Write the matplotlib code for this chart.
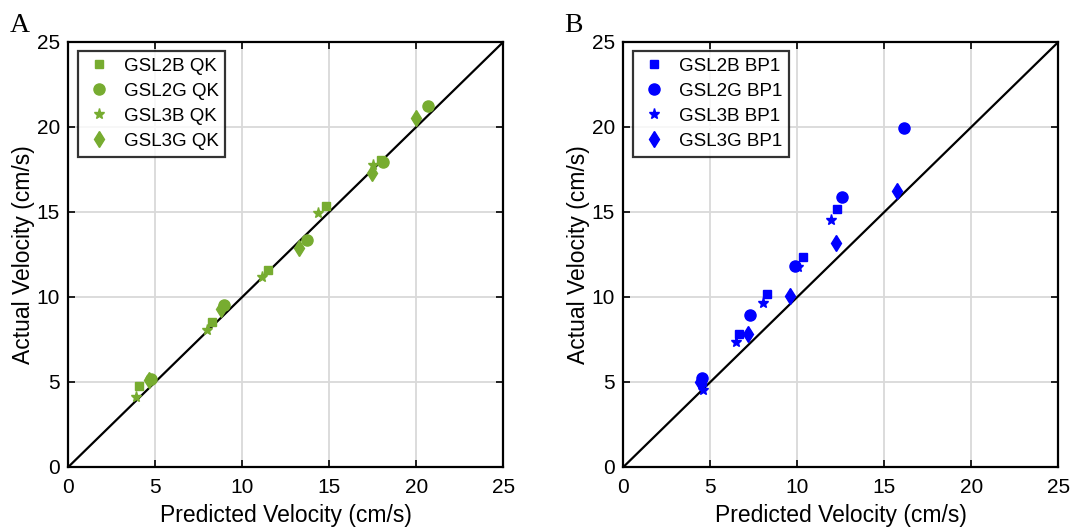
import numpy as np
import matplotlib.pyplot as plt

plt.rcParams['font.family'] = ['Liberation Sans', 'DejaVu Sans']

# panel A: QK model (predicted, actual) in cm/s
qk_2b_x = [4.07, 8.25, 11.5, 14.8, 18.0]
qk_2b_y = [4.75, 8.55, 11.6, 15.35, 18.05]
qk_2g_x = [4.75, 8.95, 13.7, 18.1, 20.65]
qk_2g_y = [5.15, 9.5, 13.35, 17.95, 21.25]
qk_3b_x = [3.9, 7.95, 11.15, 14.35, 17.5]
qk_3b_y = [4.1, 8.05, 11.2, 14.95, 17.75]
qk_3g_x = [4.65, 8.75, 13.25, 17.45, 20.0]
qk_3g_y = [5.1, 9.3, 12.9, 17.3, 20.5]

# panel B: BP1 model
bp_2b_x = [4.5, 6.65, 8.25, 10.3, 12.3]
bp_2b_y = [5.0, 7.85, 10.2, 12.35, 15.15]
bp_2g_x = [4.5, 7.3, 9.85, 12.55, 16.15]
bp_2g_y = [5.25, 8.95, 11.8, 15.9, 19.95]
bp_3b_x = [4.55, 6.45, 8.0, 10.05, 11.95]
bp_3b_y = [4.5, 7.35, 9.65, 11.75, 14.5]
bp_3g_x = [4.4, 7.15, 9.55, 12.2, 15.75]
bp_3g_y = [5.0, 7.85, 10.05, 13.15, 16.25]

green = '#77AC30'
blue = '#0000FF'

fig = plt.figure(figsize=(10.72, 5.30), dpi=100)
ax1 = fig.add_axes([0.0637, 0.1189, 0.4058, 0.802])
ax2 = fig.add_axes([0.5815, 0.1189, 0.4058, 0.802])


def panel(ax, color, tag, data, letter):
    ax.grid(True, color='#d9d9d9', linewidth=1.3, zorder=0)
    ax.set_axisbelow(True)
    ax.plot([0, 25], [0, 25], color='black', linewidth=1.6, zorder=2)
    markers = [('s', 6, 'GSL2B'), ('o', 8, 'GSL2G'), ('*', 8, 'GSL3B'), ('d', 8, 'GSL3G')]
    for (m, ms, name), (xs, ys) in zip(markers, data):
        ax.plot(xs, ys, linestyle='none', marker=m, markersize=ms, color=color,
                label=name + ' ' + tag, zorder=3)
    ax.set_xlim(0, 25)
    ax.set_ylim(0, 25)
    ax.set_xticks(np.arange(0, 26, 5))
    ax.set_yticks(np.arange(0, 26, 5))
    ax.tick_params(direction='in', labelsize=15, width=1.2, length=5,
                   top=True, right=True)
    ax.tick_params(axis='x', pad=8)
    ax.tick_params(axis='y', pad=6)
    for s in ax.spines.values():
        s.set_linewidth(1.6)
    ax.set_xlabel('Predicted Velocity (cm/s)', fontsize=16.5, labelpad=5)
    ax.set_ylabel('Actual Velocity (cm/s)', fontsize=16.5, labelpad=1)
    leg = ax.legend(loc='upper left', fontsize=13.5, frameon=True, fancybox=False,
                    borderaxespad=0.5, handletextpad=0.5, labelspacing=0.42,
                    handlelength=1.6, borderpad=0.35)
    leg.get_frame().set_edgecolor('black')
    leg.get_frame().set_linewidth(1.6)
    ax.text(-0.135, 1.01, letter, transform=ax.transAxes, fontsize=20,
            family='Liberation Serif', va='bottom', ha='left')


panel(ax1, green, 'QK',
      [(qk_2b_x, qk_2b_y), (qk_2g_x, qk_2g_y), (qk_3b_x, qk_3b_y), (qk_3g_x, qk_3g_y)], 'A')
panel(ax2, blue, 'BP1',
      [(bp_2b_x, bp_2b_y), (bp_2g_x, bp_2g_y), (bp_3b_x, bp_3b_y), (bp_3g_x, bp_3g_y)], 'B')

fig.savefig('out.png', dpi=100)
